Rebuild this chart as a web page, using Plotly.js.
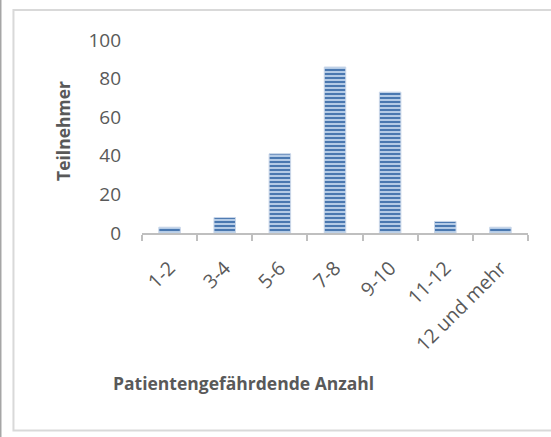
<!DOCTYPE html>
<html>
<head>
<meta charset="utf-8">
<script src="https://cdn.plot.ly/plotly-3.0.1.min.js"></script>
<style>
html,body{margin:0;padding:0;background:#fff;}
#chart{width:551px;height:437px;}
</style>
</head>
<body>
<div id="chart"></div>
<script>
const categories = ["1-2", "3-4", "5-6", "7-8", "9-10", "11-12", "12 und mehr"];
const teilnehmer = [3, 8, 41, 86, 73, 6, 3];
const yTicks = [0, 20, 40, 60, 80, 100];
const xTitle = "Patientengefährdende Anzahl";
const yTitle = "Teilnehmer";

const font = "Open Sans, Calibri, sans-serif";
const trace = {
  type: "bar",
  x: categories,
  y: teilnehmer,
  width: 0.39,
  marker: {
    color: "#a7c0e0",
    line: {color: "#c9d6e8", width: 1},
    pattern: {shape: "-", fgcolor: "#4a78b0", bgcolor: "#b4cbe6", size: 4, solidity: 0.5}
  },
  hoverinfo: "x+y"
};

const layout = {
  width: 551, height: 437,
  paper_bgcolor: "#ffffff", plot_bgcolor: "#ffffff",
  margin: {l: 142, r: 23, t: 40, b: 204},
  showlegend: false,
  font: {family: font, color: "#595959", size: 19},
  xaxis: {
    type: "category",
    showgrid: false, zeroline: false,
    showline: true, linecolor: "#bfbfbf", linewidth: 2,
    ticks: "outside", tickson: "boundaries", ticklen: 6, tickcolor: "#bfbfbf", tickwidth: 2,
    tickangle: -45, tickfont: {family: font, size: 19.5, color: "#595959"},
    ticklabelstandoff: 14
  },
  yaxis: {
    range: [0, 100], tickvals: yTicks,
    showgrid: false, zeroline: false, showline: false, ticks: "",
    tickfont: {family: font, size: 19, color: "#595959"},
    ticklabelstandoff: 20
  },
  annotations: [
    {text: "<b>" + yTitle + "</b>", xref: "paper", yref: "paper", x: -0.205, y: 0.528,
     xanchor: "center", yanchor: "middle", textangle: -90, showarrow: false,
     font: {family: font, size: 17.5, color: "#595959"}},
    {text: "<b>" + xTitle + "</b>", xref: "paper", yref: "paper", x: 0.262, y: -0.777,
     xanchor: "center", yanchor: "middle", showarrow: false,
     font: {family: font, size: 17.5, color: "#595959"}}
  ],
  shapes: [
    {type: "rect", xref: "paper", yref: "paper", x0: -0.333, x1: 1.1, y0: -1.023, y1: 1.155,
     line: {color: "#d9d9d9", width: 2}, fillcolor: "rgba(0,0,0,0)"},
    {type: "line", xref: "paper", yref: "paper", x0: -0.3666, x1: -0.3666, y0: -1.2, y1: 1.3,
     line: {color: "#a6a6a6", width: 2}}
  ]
};

Plotly.newPlot("chart", [trace], layout, {displayModeBar: false, staticPlot: true});
</script>
</body>
</html>
